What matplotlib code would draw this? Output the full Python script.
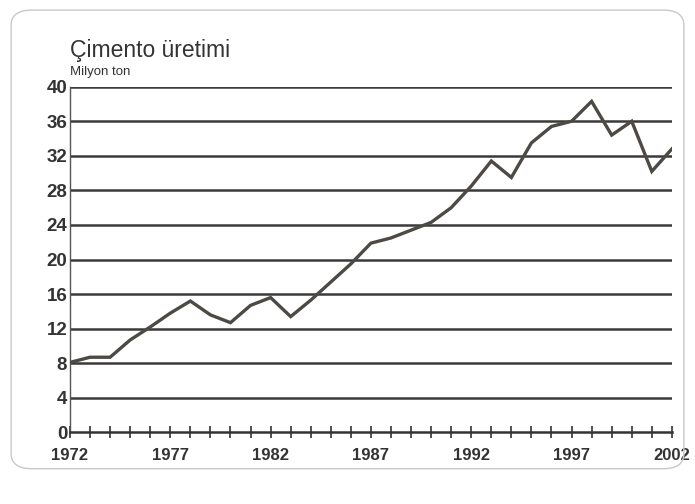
import matplotlib
matplotlib.use("Agg")
import matplotlib.pyplot as plt
from matplotlib.patches import FancyBboxPatch

# Çimento üretimi, milyon ton
years = list(range(1972, 2003))
production = [8.1, 8.7, 8.7, 10.7, 12.2, 13.8, 15.2, 13.6, 12.7, 14.7,
              15.6, 13.4, 15.3, 17.4, 19.5, 21.9, 22.5, 23.4, 24.3, 26.0,
              28.5, 31.4, 29.5, 33.5, 35.4, 36.0, 38.3, 34.4, 36.0, 30.2,
              32.8]
y_ticks = list(range(0, 41, 4))
x_labels = [1972, 1977, 1982, 1987, 1992, 1997, 2002]

NARROW = ["Liberation Sans Narrow", "Liberation Sans", "DejaVu Sans"]
plt.rcParams["font.family"] = NARROW

fig = plt.figure(figsize=(6.95, 5.04), dpi=100)

# rounded panel frame
frame = FancyBboxPatch((0.016, 0.07), 0.968, 0.91,
                       boxstyle="round,pad=0,rounding_size=0.03",
                       transform=fig.transFigure, facecolor="none",
                       edgecolor="#c8c8c8", lw=1.0)
fig.patches.append(frame)

ax = fig.add_axes([0.1007, 0.142, 0.866, 0.686])
ax.set_xlim(1972, 2002)
ax.set_ylim(0, 40)

for v in y_ticks[1:]:
    ax.axhline(v, color="#3a3a3a", lw=1.8, zorder=1)

ax.plot(years, production, color="#4d4a46", lw=2.4, zorder=3,
        solid_joinstyle="miter")

for side in ("top", "right"):
    ax.spines[side].set_visible(False)
ax.spines["left"].set_color("#555555")
ax.spines["left"].set_linewidth(1.0)
ax.spines["bottom"].set_color("#333333")
ax.spines["bottom"].set_linewidth(1.8)

ax.set_yticks(y_ticks)
ax.set_yticklabels([str(v) for v in y_ticks], fontsize=13.5, fontweight="bold",
                   color="#333333")
ax.tick_params(axis="y", length=0, pad=2)

ax.set_xticks(years)
ax.set_xticklabels([str(y) if y in x_labels else "" for y in years],
                   fontsize=12, fontweight="bold", color="#333333")
ax.tick_params(axis="x", direction="inout", length=8, width=1.2,
               color="#333333", pad=7)

fig.text(0.1007, 0.9, "Çimento üretimi", fontsize=16.5, color="#333333",
         ha="left", va="center")
fig.text(0.1007, 0.857, "Milyon ton", fontsize=9.5, color="#333333",
         ha="left", va="center")

fig.savefig("out.png", dpi=100, facecolor="white")
